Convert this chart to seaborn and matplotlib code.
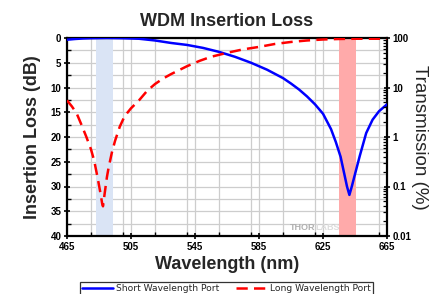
import numpy as np
import pandas as pd
import matplotlib
matplotlib.use("Agg")
import matplotlib.pyplot as plt
import seaborn as sns
from matplotlib.ticker import MultipleLocator, LogLocator, FixedLocator, NullFormatter

sns.set_theme(style="white")
plt.rcParams['font.family'] = ['Liberation Sans', 'DejaVu Sans']

# ---- data ----
short_wl = [465, 470, 475, 480, 490, 500, 510, 520, 530, 540, 550, 560, 570, 580,
            590, 600, 605, 610, 615, 620, 625, 630, 633, 636, 638, 640, 641.5,
            643, 645, 648, 652, 656, 660, 665]
short_il = [0.35, 0.2, 0.1, 0.05, 0.0, 0.05, 0.15, 0.5, 1.0, 1.4, 2.0, 2.8, 3.8, 5.0,
            6.4, 8.1, 9.2, 10.4, 11.8, 13.4, 15.3, 18.4, 21.0, 24.0, 27.0, 30.0, 31.7,
            30.0, 27.5, 23.8, 19.2, 16.5, 14.8, 13.4]

long_wl = [465, 468, 471, 474, 477, 480, 482, 484, 486, 487, 487.5, 488.5, 490, 491,
           493, 495, 498, 501, 505, 510, 515, 520, 525, 530, 535, 540, 548, 555,
           565, 575, 585, 595, 605, 615, 625, 635, 645, 665]
long_il = [12.6, 13.8, 15.2, 17.5, 19.9, 22.5, 24.8, 28.0, 31.5, 33.5, 34.0, 31.5, 28.0, 26.2,
           23.2, 20.8, 17.9, 15.8, 14.2, 12.6, 10.7, 9.3, 8.2, 7.3, 6.5, 5.7, 4.6, 3.8,
           3.0, 2.3, 1.8, 1.2, 0.8, 0.5, 0.3, 0.2, 0.15, 0.15]

short_band = (483, 493.5)
long_band = (635, 645.5)

x_ticks = [465, 505, 545, 585, 625, 665]
y_ticks = [0, 5, 10, 15, 20, 25, 30, 35, 40]
t_ticks = [0.01, 0.1, 1, 10, 100]
t_labels = ["0.01", "0.1", "1", "10", "100"]

df_short = pd.DataFrame({"wl": short_wl, "il": short_il})
df_long = pd.DataFrame({"wl": long_wl, "il": long_il})

fig = plt.figure(figsize=(4.3, 2.94), dpi=100)
ax = fig.add_axes([67/430, 1-236/294, 320/430, 198/294])

ax.axvspan(*short_band, color="#dae4f5", lw=0, zorder=1)
ax.axvspan(*long_band, color="#ffaaaa", lw=0, zorder=1)

sns.lineplot(data=df_short, x="wl", y="il", ax=ax, color="#0000ff", lw=1.8,
             label="Short Wavelength Port", zorder=4)
sns.lineplot(data=df_long, x="wl", y="il", ax=ax, color="#ff0000", lw=1.8,
             label="Long Wavelength Port", zorder=4)
ax.lines[-1].set_dashes([4.5, 2.5])

ax.set_xlim(465, 665)
ax.set_ylim(40, 0)
ax.xaxis.set_major_locator(FixedLocator(x_ticks))
ax.xaxis.set_minor_locator(MultipleLocator(20))
ax.yaxis.set_major_locator(FixedLocator(y_ticks))
ax.yaxis.set_minor_locator(MultipleLocator(2.5))
ax.grid(True, which="both", color="#cdcdcd", lw=0.9, zorder=0)
ax.set_axisbelow(True)

for s in ax.spines.values():
    s.set_color("black")
    s.set_linewidth(1.6)

ax.tick_params(axis="both", which="major", direction="inout", length=5, width=1.2,
               colors="black", labelsize=7, pad=1.5)
ax.tick_params(axis="both", which="minor", direction="in", length=3, width=1.0,
               colors="black")
ax.tick_params(axis="y", which="both", left=True, right=False)
ax.tick_params(axis="x", which="both", bottom=True)
for lab in ax.get_xticklabels() + ax.get_yticklabels():
    lab.set_fontweight("bold")

ax.set_xlabel("Wavelength (nm)", fontsize=13, fontweight="bold", labelpad=3)
ax.set_ylabel("Insertion Loss (dB)", fontsize=13, fontweight="bold", labelpad=7)
ax.set_title("WDM Insertion Loss", fontsize=13, fontweight="bold", pad=9)

ax2 = ax.twinx()
ax2.set_yscale("log")
ax2.set_ylim(0.01, 100)
ax2.yaxis.set_major_locator(FixedLocator(t_ticks))
ax2.set_yticklabels(t_labels)
ax2.yaxis.set_minor_locator(LogLocator(base=10, subs=np.arange(2, 10)))
ax2.yaxis.set_minor_formatter(NullFormatter())
ax2.tick_params(axis="y", which="major", direction="inout", length=5, width=1.2,
                colors="black", labelsize=7, pad=1.5)
ax2.tick_params(axis="y", which="minor", direction="in", length=3, width=0.9,
                colors="black")
for lab in ax2.get_yticklabels():
    lab.set_fontweight("bold")
for s in ax2.spines.values():
    s.set_visible(False)
ax2.set_ylabel("Transmission (%)", fontsize=13.5, rotation=270, labelpad=12)
ax2.grid(False)

ax.text(620, 38.3, "THOR", color="#b0b0b0", fontsize=6.5, fontweight="bold",
        ha="right", va="center", zorder=2)
ax.text(620, 38.3, "LABS", color="#dddddd", fontsize=6.5, fontweight="bold",
        ha="left", va="center", zorder=2)

handles, labels = ax.get_legend_handles_labels()
ax.get_legend().remove()
leg = fig.legend(handles, labels, loc="upper center", bbox_to_anchor=(226.5/430, 1-281.5/294),
                 ncol=2, prop={"family": "DejaVu Sans", "size": 6.6}, frameon=True,
                 fancybox=False, edgecolor="black",
                 handlelength=3.4, handletextpad=0.3, columnspacing=1.8,
                 borderpad=0.25, borderaxespad=0)
leg.get_frame().set_linewidth(0.9)

fig.savefig("out.png", dpi=100)
